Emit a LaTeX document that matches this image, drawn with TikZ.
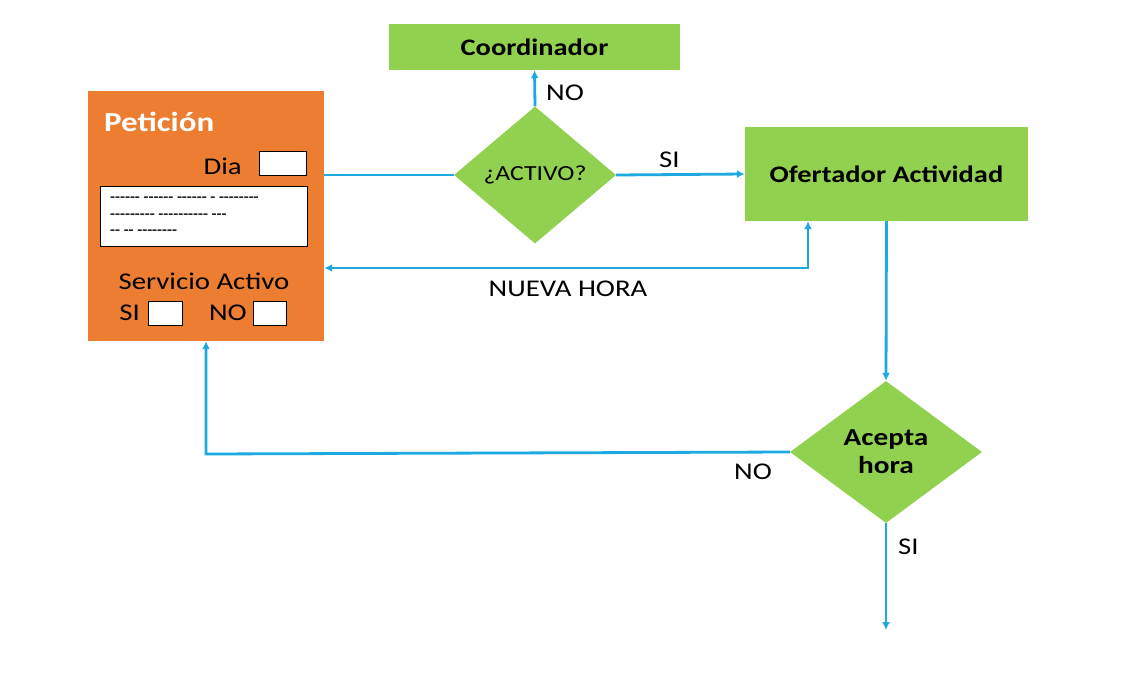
\documentclass[tikz,border=0pt]{standalone}
\usepackage{fontspec}
\setmainfont{Carlito}[FakeStretch=1.2]
\newfontfamily\dashfont{Carlito}[Ligatures=TeXOff,FakeStretch=1.2]
\usetikzlibrary{shapes.geometric,arrows.meta}
\definecolor{grn}{HTML}{92D050}
\definecolor{org}{HTML}{ED7D31}
\definecolor{blu}{HTML}{1DA9E1}
\tikzset{
  gbox/.style={fill=grn,draw=none,inner sep=0pt,font=\fontsize{23.7}{26}\selectfont\bfseries},
  gdia/.style={diamond,fill=grn,draw=none,inner sep=0pt,align=center},
  wbox/.style={fill=white,draw=black,line width=0.8pt,inner sep=0pt},
  conn/.style={draw=blu,line width=2.8pt},
  arr/.style={conn,-{Latex[length=8pt,width=8pt]}},
  lbl/.style={font=\fontsize{24}{26}\selectfont,inner sep=0pt},
}
\begin{document}
\begin{tikzpicture}[x=1pt,y=-1pt]
\useasboundingbox (0,0) rectangle (1125,694);
% nodes
\node[gbox,minimum width=291pt,minimum height=46pt] (coord) at (534.5,47) {Coordinador};
\node[fill=org,inner sep=0pt,minimum width=236pt,minimum height=250pt] (pet) at (206,216) {};
\node[gbox,minimum width=283pt,minimum height=94pt] (ofer) at (886.5,174) {Ofertador Actividad};
\node[gdia,minimum width=162pt,minimum height=137pt,font=\fontsize{21.5}{23}\selectfont] (act) at (535,175) {¿ACTIVO?};
\node[gdia,minimum width=192pt,minimum height=142pt,font=\fontsize{24.4}{28}\selectfont\bfseries] (acep) at (886,452) {Acepta\\hora};
% contents of Petición
\node[anchor=west,text=white,font=\fontsize{27.5}{30}\selectfont\bfseries,inner sep=0pt] (pett) at (104,122) {Petición};
\node[lbl,anchor=east] (dia) at (242,166) {Dia};
\node[wbox,minimum width=47pt,minimum height=24pt] (diab) at (282.5,163) {};
\node[wbox,minimum width=207pt,minimum height=60pt] (txtb) at (203.5,216) {};
\node[anchor=north west,align=left,inner sep=0pt,font=\dashfont\bfseries\fontsize{13.5}{16.5}\selectfont] (dash) at (110,197) {------ ------ ------ - --------\\--------- ---------- ---\\-- -- --------};
\node[lbl] (serv) at (204,281) {Servicio Activo};
\node[lbl,anchor=east] (si1) at (140,313) {SI};
\node[wbox,minimum width=34pt,minimum height=24pt] (sib) at (165,313) {};
\node[lbl,anchor=east] (no1) at (247,313) {NO};
\node[wbox,minimum width=33pt,minimum height=24pt] (nob) at (269.5,313) {};
% connectors
\coordinate (nh) at (808,268);
\coordinate (nob2) at (206,454);
\coordinate (endp) at (886,630);
\draw[conn] (pet.east |- act.west) -- (act.west);
\draw[arr] (act.north) -- (coord.south);
\draw[arr] (act.east) -- (ofer.west);
\draw[conn,{Latex[length=8pt,width=8pt]}-{Latex[length=8pt,width=8pt]}] (ofer.south -| nh) -- (nh) -- (pet.east |- nh);
\draw[arr] (ofer.south) -- (acep.north);
\draw[arr] (acep.west) -- (nob2) -- (pet.south -| nob2);
\draw[arr] (acep.south) -- (endp);
% labels
\node[lbl,anchor=west] (lno) at (546,93) {NO};
\node[lbl,anchor=west] (lsi) at (659,160) {SI};
\node[lbl] (lnh) at (568,289) {NUEVA HORA};
\node[lbl,anchor=west] (lno2) at (734,472) {NO};
\node[lbl,anchor=west] (lsi2) at (898,547) {SI};
\end{tikzpicture}
\end{document}
